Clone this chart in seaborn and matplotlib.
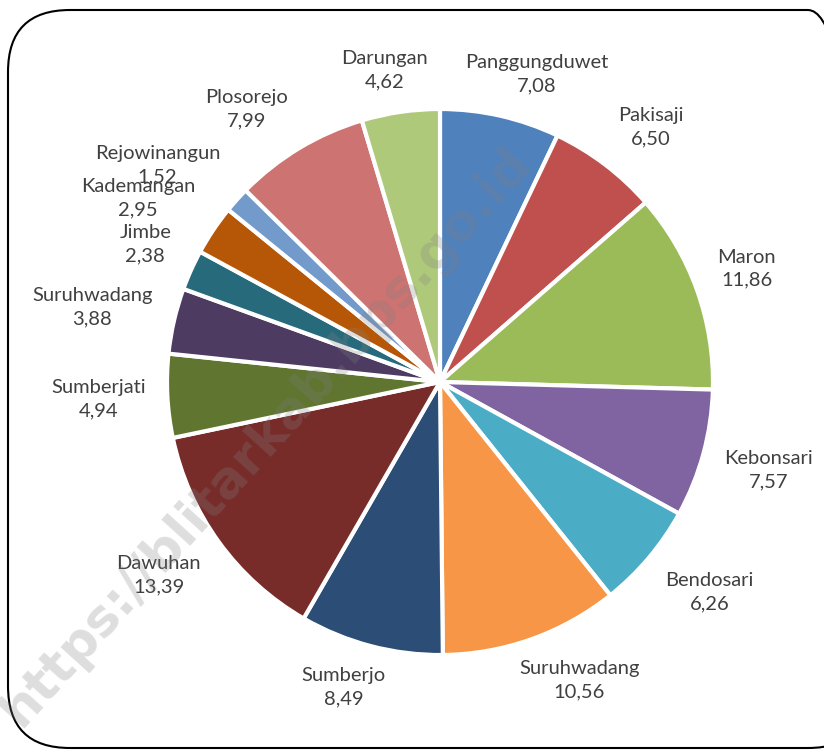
import matplotlib
matplotlib.use("Agg")
import numpy as np
import matplotlib.pyplot as plt
from matplotlib.patches import FancyBboxPatch
import seaborn as sns

# data, clockwise from 12 o'clock
desa = ['Panggungduwet', 'Pakisaji', 'Maron', 'Kebonsari', 'Bendosari',
        'Suruhwadang', 'Sumberjo', 'Dawuhan', 'Sumberjati', 'Suruhwadang',
        'Jimbe', 'Kademangan', 'Rejowinangun', 'Plosorejo', 'Darungan']
persen = [7.08, 6.50, 11.86, 7.57, 6.26, 10.56, 8.49, 13.39, 4.94, 3.88,
          2.38, 2.95, 1.52, 7.99, 4.62]
warna = ['#4F81BD', '#C0504D', '#9BBB59', '#8064A2', '#4BACC6', '#F79646',
         '#2C4D75', '#772C2A', '#5F7530', '#4D3B62', '#276A7C', '#B65708',
         '#729ACA', '#CD7371', '#AFC97A']

sns.set_theme(style='white')
plt.rcParams['font.family'] = ['Lato', 'DejaVu Sans']

W, H, DPI = 824, 751, 100
fig = plt.figure(figsize=(W / DPI, H / DPI), dpi=DPI)
fig.patch.set_facecolor('white')
ax = fig.add_axes([0, 0, 1, 1])

wedges, _ = ax.pie(persen, colors=warna, startangle=90, counterclock=False,
                   wedgeprops=dict(edgecolor='white', linewidth=3))

# pie centre at (440, 382) px, radius 273 px
r, cx, cy = 273, 440, 382
ax.set_xlim(-cx / r, (W - cx) / r)
ax.set_ylim(-(H - cy) / r, cy / r)
ax.set_aspect('auto')
ax.axis('off')

# Excel-like outside-end labels: box corner nearest the pie sits at 1.08 r
renderer = fig.canvas.get_renderer()
for w, d, v in zip(wedges, desa, persen):
    ang = np.deg2rad((w.theta1 + w.theta2) / 2)
    ux, uy = np.cos(ang), np.sin(ang)
    txt = f"{d}\n{v:.2f}".replace('.', ',')
    t = ax.annotate(txt, xy=(1.08 * ux, 1.08 * uy), xytext=(0, 0),
                    textcoords='offset pixels', ha='center', va='center',
                    color='#404040', fontsize=14.5, linespacing=1.45)
    bb = t.get_window_extent(renderer)
    sx = np.clip(2 * ux, -1, 1)
    sy = np.clip(2 * uy, -1, 1)
    t.set_position((sx * bb.width / 2, sy * bb.height / 2))

# watermark
fig.text(266 / W, 1 - 437 / H, 'https://blitarkab.bps.go.id', rotation=47.8,
         ha='center', va='center', fontsize=37, fontweight='bold',
         family='DejaVu Sans', color='#808080', alpha=0.26, zorder=10)

# rounded frame (right side runs past the image edge)
frame = FancyBboxPatch((0.08, 0.03), 8.62, 7.38,
                       boxstyle='round,pad=0,rounding_size=0.62',
                       transform=fig.dpi_scale_trans, fill=False,
                       edgecolor='black', linewidth=1.5, clip_on=False)
fig.patches.append(frame)

fig.savefig('out.png', dpi=DPI)
